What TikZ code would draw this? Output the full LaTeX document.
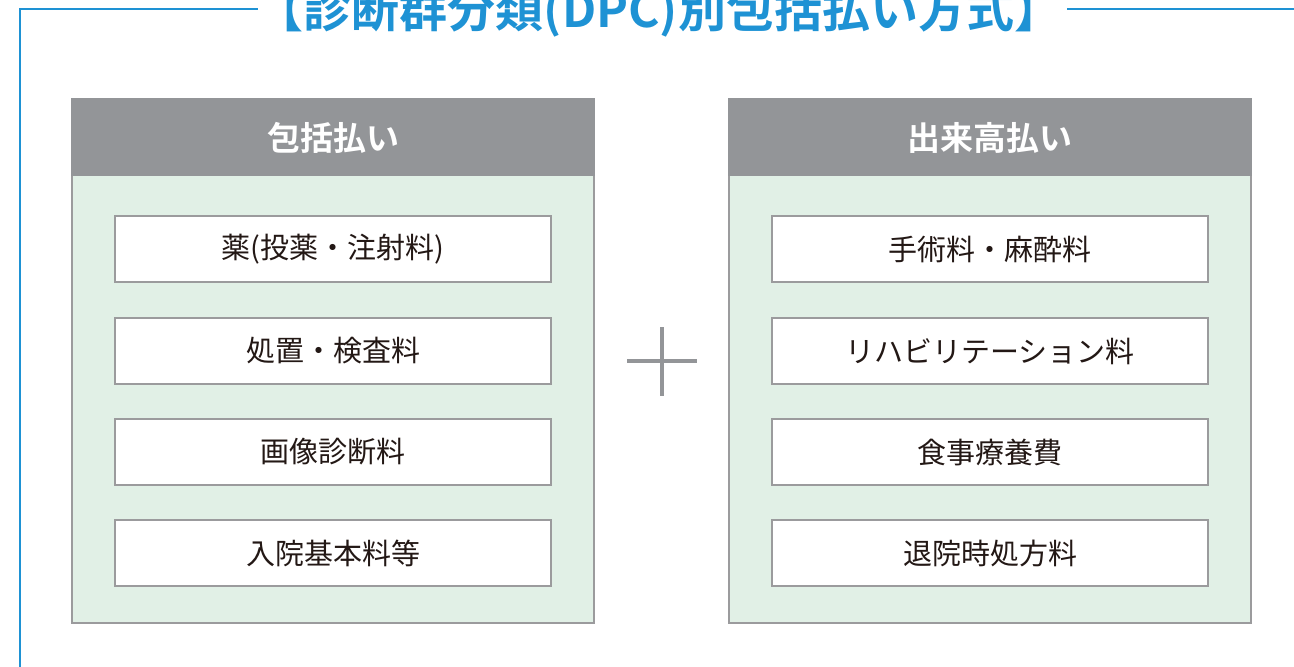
\documentclass[tikz,border=0pt]{standalone}
\usepackage{fontspec}
\newfontfamily\jp{Noto Sans CJK JP}
\newfontfamily\jpb{Noto Sans CJK JP Bold}
\definecolor{frameblue}{RGB}{30,146,212}
\definecolor{hdrgray}{RGB}{147,149,152}
\definecolor{panelgreen}{RGB}{225,240,230}
\definecolor{bordergray}{RGB}{155,155,157}
\definecolor{txt}{RGB}{35,24,21}
\begin{document}
\begin{tikzpicture}[x=1pt,y=-1pt,
  panel/.style={draw=bordergray,line width=2pt,fill=panelgreen},
  hdr/.style={fill=hdrgray},
  hdrtext/.style={text=white,font=\jpb\fontsize{33}{35}\selectfont},
  itembox/.style={draw=bordergray,line width=2pt,fill=white,minimum width=436pt,minimum height=66pt,inner sep=0pt,font=\jp\fontsize{29}{31}\selectfont,text=txt},
  ttl/.style={text=frameblue,font=\jpb\fontsize{48}{52}\selectfont,inner sep=0pt},
  frameline/.style={frameblue,line width=2pt}]
\useasboundingbox (0,0) rectangle (1294,667);
% frame
\node[ttl] (title) at (659,12) {【診断群分類(DPC)別包括払い方式】};
\coordinate (fb) at (20,700);
\coordinate (ftl) at (20,9);
\coordinate (ft1) at (258,9);
\coordinate (ft2) at (1067,9);
\coordinate (ftr) at (1300,9);
\draw[frameline] (fb) -- (ftl) -- (ft1);
\draw[frameline] (ft2) -- (ftr);
% left panel
\draw[panel] (72,99) rectangle (594,623);
\fill[hdr] (71,98) rectangle (595,176);
\node[hdrtext] (lh) at (333,138) {包括払い};
\node[itembox] (l1) at (333,249) {薬(投薬・注射料)};
\node[itembox] (l2) at (333,351) {処置・検査料};
\node[itembox] (l3) at (333,452) {画像診断料};
\node[itembox] (l4) at (333,553) {入院基本料等};
% right panel
\draw[panel] (729,99) rectangle (1251,623);
\fill[hdr] (728,98) rectangle (1252,176);
\node[hdrtext] (rh) at (990,138) {出来高払い};
\node[itembox] (r1) at (990,249) {手術料・麻酔料};
\node[itembox] (r2) at (990,351) {リハビリテーション料};
\node[itembox] (r3) at (990,452) {食事療養費};
\node[itembox] (r4) at (990,553) {退院時処方料};
% plus
\coordinate (pw) at (627,361);
\coordinate (pe) at (697,361);
\coordinate (pn) at (662,327);
\coordinate (ps) at (662,396);
\draw[hdrgray,line width=4pt] (pw) -- (pe);
\draw[hdrgray,line width=4pt] (pn) -- (ps);
\end{tikzpicture}
\end{document}
